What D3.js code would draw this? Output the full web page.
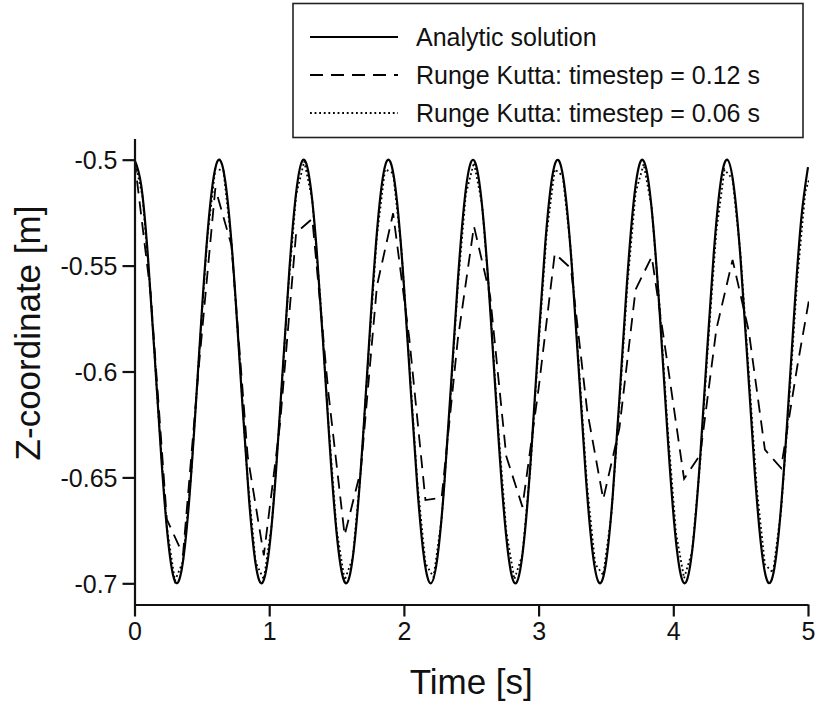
<!DOCTYPE html>
<html>
<head>
<meta charset="utf-8">
<script src="https://cdn.jsdelivr.net/npm/d3@7"></script>
<style>
  html, body { margin: 0; padding: 0; background: #fff; }
  svg { display: block; }
  text { font-family: "Liberation Sans", Arial, Helvetica, sans-serif; fill: #111; }
</style>
</head>
<body>
<svg id="chart" width="816" height="704"></svg>
<script>
// ---------------- data ----------------
const legendLabels = ["Analytic solution", "Runge Kutta: timestep = 0.12 s", "Runge Kutta: timestep = 0.06 s"];
const xTicks = [0, 1, 2, 3, 4, 5];
const yTicks = [-0.5, -0.55, -0.6, -0.65, -0.7];
const xTitle = "Time [s]";
const yTitle = "Z-coordinate [m]";

// analytic solution sampled every 0.05 s
const analyticStep = 0.05;
const analyticZ = [
  -0.5, -0.5122, -0.5460, -0.5929, -0.6416, -0.6801, -0.6990, -0.6936, -0.6654, -0.6211,
  -0.5716, -0.5291, -0.5040, -0.5023, -0.5246, -0.5653, -0.6146, -0.6602, -0.6911, -0.6997,
  -0.6839, -0.6476, -0.5996, -0.5517, -0.5156, -0.5002, -0.5093, -0.5405, -0.5863, -0.6355,
  -0.6760, -0.6978, -0.6958, -0.6702, -0.6275, -0.5781, -0.5340, -0.5060, -0.5011, -0.5204,
  -0.5592, -0.6080, -0.6548, -0.6882, -0.7000, -0.6873, -0.6533, -0.6062, -0.5576, -0.5194,
  -0.5009, -0.5067, -0.5353, -0.5798, -0.6292, -0.6715, -0.6963, -0.6975, -0.6748, -0.6338,
  -0.5846, -0.5391, -0.5085, -0.5004, -0.5166, -0.5532, -0.6013, -0.6491, -0.6849, -0.6998,
  -0.6904, -0.6588, -0.6128, -0.5637, -0.5235, -0.5020, -0.5045, -0.5304, -0.5733, -0.6228,
  -0.6667, -0.6943, -0.6987, -0.6790, -0.6400, -0.5912, -0.5445, -0.5114, -0.5000, -0.5131,
  -0.5475, -0.5947, -0.6432, -0.6812, -0.6992, -0.6930, -0.6640, -0.6193, -0.5699, -0.5279,
  -0.5035
];

// Runge Kutta, timestep 0.12 s
const rk12Step = 0.12;
const rk12Z = [
  -0.5, -0.5634, -0.6698, -0.6865, -0.5960, -0.5135, -0.5405, -0.6399, -0.6868, -0.6250,
  -0.5345, -0.5279, -0.6104, -0.6773, -0.6466, -0.5595, -0.5253, -0.5844, -0.6607, -0.6596,
  -0.5850, -0.5314, -0.5643, -0.6400, -0.6639, -0.6081, -0.5443, -0.5513, -0.6182, -0.6603,
  -0.6267, -0.5613, -0.5458, -0.5977, -0.6507, -0.6393, -0.5799, -0.5473, -0.5808, -0.6369,
  -0.6456, -0.5978, -0.5544
];

// Runge Kutta, timestep 0.06 s
const rk06Step = 0.06;
const rk06Z = [
  -0.5, -0.5175, -0.5637, -0.6225, -0.6735, -0.6988, -0.6897, -0.6493, -0.5917, -0.5371,
  -0.5044, -0.5051, -0.5389, -0.5939, -0.6510, -0.6903, -0.6981, -0.6717, -0.6203, -0.5619,
  -0.5167, -0.5007, -0.5192, -0.5659, -0.6245, -0.6745, -0.6985, -0.6881, -0.6471, -0.5896,
  -0.5359, -0.5045, -0.5064, -0.5410, -0.5961, -0.6525, -0.6906, -0.6971, -0.6698, -0.6181,
  -0.5601, -0.5161, -0.5014, -0.5210, -0.5682, -0.6264, -0.6754, -0.6981, -0.6865, -0.6449,
  -0.5876, -0.5347, -0.5045, -0.5077, -0.5431, -0.5982, -0.6540, -0.6909, -0.6961, -0.6678,
  -0.6159, -0.5585, -0.5156, -0.5021, -0.5228, -0.5704, -0.6283, -0.6762, -0.6976, -0.6849,
  -0.6427, -0.5856, -0.5335, -0.5047, -0.5091, -0.5452, -0.6004, -0.6554, -0.6911, -0.6950,
  -0.6658, -0.6137, -0.5568, -0.5151, -0.5029
];

// ---------------- chart ----------------
const svg = d3.select("#chart");
const fontFam = '"Liberation Sans", Arial, Helvetica, sans-serif';

const x = d3.scaleLinear().domain([0, 5]).range([134.5, 808]);
const y = d3.scaleLinear().domain([-0.71, -0.49]).range([604.5, 138.5]);

const toPts = (arr, step) => arr.map((v, i) => [i * step, v]);

svg.append("defs").append("clipPath").attr("id", "plotClip")
  .append("rect")
  .attr("x", x(0)).attr("y", y(-0.49) - 5)
  .attr("width", x(5) - x(0) + 1).attr("height", y(-0.71) - y(-0.49) + 10);

const plot = svg.append("g").attr("clip-path", "url(#plotClip)");

const smooth = d3.line().x(d => x(d[0])).y(d => y(d[1])).curve(d3.curveNatural);
const straight = d3.line().x(d => x(d[0])).y(d => y(d[1]));

plot.append("path").datum(toPts(analyticZ, analyticStep))
  .attr("d", smooth).attr("fill", "none").attr("stroke", "#000").attr("stroke-width", 2.2);

plot.append("path").datum(toPts(rk12Z, rk12Step))
  .attr("d", straight).attr("fill", "none").attr("stroke", "#000").attr("stroke-width", 1.8)
  .attr("stroke-dasharray", "13,8");

plot.append("path").datum(toPts(rk06Z, rk06Step))
  .attr("d", straight).attr("fill", "none").attr("stroke", "#000").attr("stroke-width", 1.8)
  .attr("stroke-dasharray", "1.8,2.8");

// axes
const xAxis = d3.axisBottom(x).tickValues(xTicks).tickFormat(d3.format("d")).tickSizeInner(12).tickSizeOuter(0).tickPadding(6);
const yAxis = d3.axisLeft(y).tickValues(yTicks).tickFormat(d => String(d)).tickSizeInner(12).tickSizeOuter(0).tickPadding(5);

const gx = svg.append("g").attr("transform", `translate(0,${y(-0.71)})`).call(xAxis);
const gy = svg.append("g").attr("transform", `translate(${x(0)},0)`).call(yAxis);

[gx, gy].forEach(g => {
  g.select(".domain").attr("stroke", "#111").attr("stroke-width", 2.2);
  g.selectAll(".tick line").attr("stroke", "#111").attr("stroke-width", 2.2);
  g.selectAll(".tick text").attr("font-family", fontFam).attr("font-size", 25).attr("fill", "#111");
});
gy.selectAll(".tick text").attr("dy", "0.36em");

// axis titles
svg.append("text").attr("x", x(2.5)).attr("y", 694)
  .attr("text-anchor", "middle").attr("font-size", 35).text(xTitle);
svg.append("text").attr("transform", `translate(40,333) rotate(-90)`)
  .attr("text-anchor", "middle").attr("font-size", 35).text(yTitle);

// legend
const lg = svg.append("g");
lg.append("rect").attr("x", 293).attr("y", 3.5).attr("width", 510).attr("height", 134)
  .attr("fill", "#fff").attr("stroke", "#222").attr("stroke-width", 1.6);
const rowsY = [37, 75, 113];
const styles = [
  { w: 2.2, dash: null },
  { w: 1.8, dash: "13,8" },
  { w: 1.8, dash: "1.8,2.8" }
];
legendLabels.forEach((lab, i) => {
  const l = lg.append("line").attr("x1", 310).attr("x2", 398).attr("y1", rowsY[i]).attr("y2", rowsY[i])
    .attr("stroke", "#000").attr("stroke-width", styles[i].w);
  if (styles[i].dash) l.attr("stroke-dasharray", styles[i].dash);
  lg.append("text").attr("x", 416).attr("y", rowsY[i] + 9).attr("font-size", 25).text(lab);
});
</script>
</body>
</html>
